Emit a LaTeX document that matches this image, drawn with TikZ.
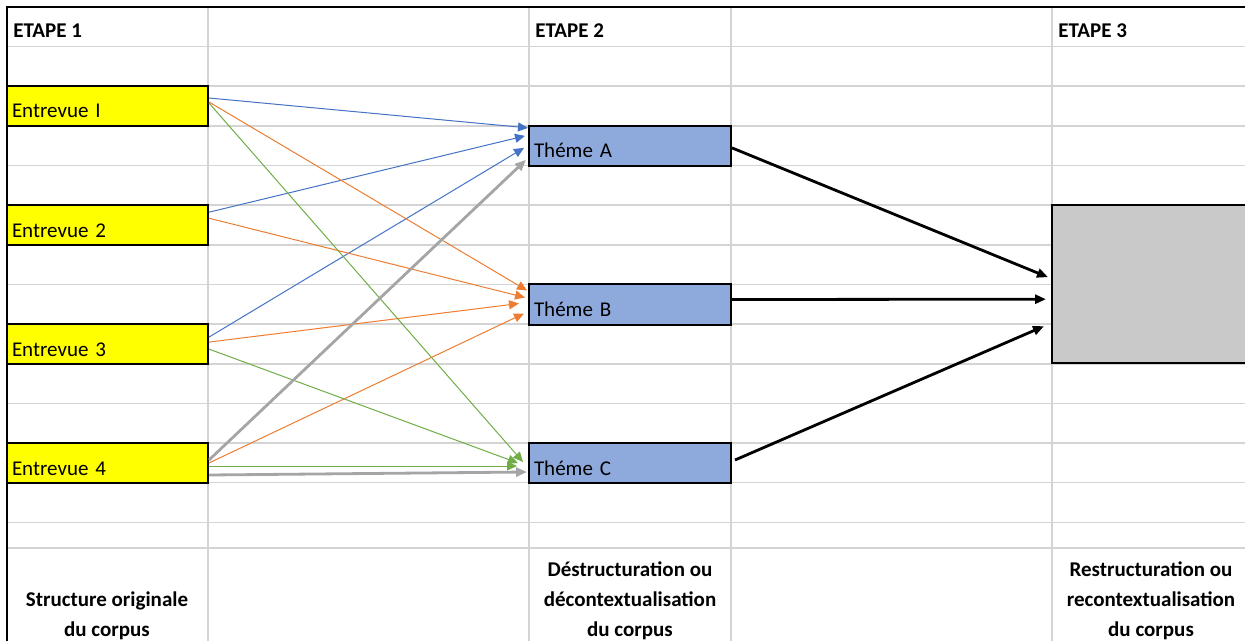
\documentclass[tikz,border=0pt]{standalone}
\usepackage{fontspec}
\setmainfont{Carlito}
\usetikzlibrary{arrows.meta,calc}

\definecolor{jaune}{HTML}{FFFF00}
\definecolor{bleutheme}{HTML}{8EA9DB}
\definecolor{grisbloc}{HTML}{C9C9C9}
\definecolor{grille}{HTML}{D4D4D4}
\definecolor{fbleu}{HTML}{4472C4}
\definecolor{forange}{HTML}{ED7D31}
\definecolor{fvert}{HTML}{70AD47}
\definecolor{fgris}{HTML}{A5A5A5}

\tikzset{
  cellule/.style={draw=black,line width=1pt,outer sep=0pt,anchor=north west,
    minimum height=20pt,inner xsep=2.5pt,inner ysep=0pt,align=left,
    text height=13pt,text depth=1pt,font=\fontsize{10.5}{12}\selectfont},
  entrevue/.style={cellule,fill=jaune,minimum width=100.5pt,text width=95.5pt},
  theme/.style={cellule,fill=bleutheme,minimum width=101pt,text width=96pt},
  titre/.style={anchor=base west,inner sep=0pt,font=\fontsize{10.5}{12}\selectfont\bfseries},
  legende/.style={anchor=base,inner sep=0pt,align=center,
    font=\fontsize{10.5}{15}\selectfont\bfseries},
  fin/.style={line width=.5pt,-{Triangle[length=5pt,width=4.5pt]}},
  epais/.style={line width=1.4pt,-{Triangle[length=5.5pt,width=4.5pt]}}
}

\begin{document}
\begin{tikzpicture}[x=0.5pt,y=-0.5pt]
\useasboundingbox (0,0) rectangle (1245,641);
\clip (0,0) rectangle (1245,641);

% quadrillage
\foreach \r in {1,...,13}
  \draw[grille,line width=.8pt] (7,7+39.64*\r) -- (1245,7+39.64*\r);
\draw[grille,line width=.8pt] (7,548) -- (1245,548);
\foreach \c in {208,529,731,1052}
  \draw[grille,line width=.8pt] (\c,7) -- (\c,641);
\draw[line width=1.2pt] (7,641) -- (7,7) -- (1245,7);

\node[titre] (etape1) at (13,38) {ETAPE 1};
\node[titre] (etape2) at (535,38) {ETAPE 2};
\node[titre] (etape3) at (1058,38) {ETAPE 3};

\node[entrevue] (e1) at (7,86) {Entrevue I};
\node[entrevue] (e2) at (7,205.2) {Entrevue 2};
\node[entrevue] (e3) at (7,324.1) {Entrevue 3};
\node[entrevue] (e4) at (7,443) {Entrevue 4};

\node[theme] (tA) at (529,125.9) {Théme A};
\node[theme] (tB) at (529,284.5) {Théme B};
\node[theme] (tC) at (529,443) {Théme C};

\node[draw=black,line width=1pt,fill=grisbloc,outer sep=0pt,anchor=north west,
  minimum width=100pt,minimum height=79pt] (synthese) at (1052,205.2) {};

% base = derniere ligne
\node[legende] (leg1) at (107,636) {Structure originale\\du corpus};
\node[legende] (leg2) at (630,636) {Déstructuration ou\\décontextualisation\\du corpus};
\node[legende] (leg3) at (1151,636) {Restructuration ou\\recontextualisation\\du corpus};

\path[fin,fbleu] ($(e1.north east)+(1,12)$) edge ($(tA.north west)+(-1,2)$)
  ($(e2.north east)+(1,7)$) edge ($(tA.north west)+(-4,10)$)
  ($(e3.north east)+(1,13)$) edge ($(tA.north west)+(-5,22)$);
\path[fin,forange] ($(e1.north east)+(1,16)$) edge ($(tB.north west)+(-2,6)$)
  ($(e2.north east)+(1,13)$) edge ($(tB.north west)+(-4,13)$)
  ($(e3.north east)+(1,18)$) edge ($(tB.north west)+(-10,19)$)
  ($(e4.north east)+(1,20)$) edge ($(tB.north west)+(-5,29)$);
\path[fin,fvert] ($(e1.north east)+(1,17)$) edge ($(tC.north west)+(-6,19)$)
  ($(e3.north east)+(1,25)$) edge ($(tC.north west)+(-11,20)$)
  ($(e4.north east)+(1,23)$) edge ($(tC.north west)+(-12,23)$);
\path[epais,fgris] ($(e4.north east)+(1,17)$) edge ($(tA.north west)+(-3,34)$)
  ($(e4.north east)+(1,32)$) edge ($(tC.north west)+(-2,29)$);

\path[epais,black] ($(tA.north east)+(1,22)$) edge ($(synthese.north west)+(-4,72)$)
  ($(tB.north east)+(1,15)$) edge ($(synthese.north west)+(-6,94)$)
  ($(tC.north east)+(4,17)$) edge ($(synthese.north west)+(-8,121)$);
\end{tikzpicture}
\end{document}
